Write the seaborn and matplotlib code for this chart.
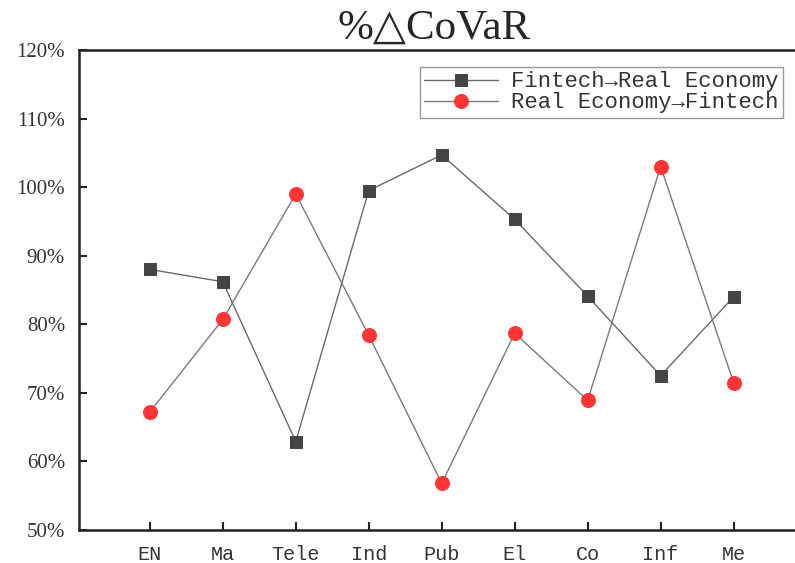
import matplotlib
matplotlib.use("Agg")
import matplotlib.pyplot as plt
from matplotlib.ticker import FuncFormatter, MultipleLocator
import pandas
import seaborn as sns

sectors = ["EN", "Ma", "Tele", "Ind", "Pub", "El", "Co", "Inf", "Me"]
fintech_to_real = [88.0, 86.2, 62.9, 99.5, 104.7, 95.3, 84.1, 72.5, 84.0]
real_to_fintech = [67.2, 80.7, 99.0, 78.4, 56.8, 78.7, 68.9, 103.0, 71.5]

label_a = "Fintech\u2192Real Economy"
label_b = "Real Economy\u2192Fintech"

serif = ["Liberation Serif", "DejaVu Serif"]
mono = ["Liberation Mono", "DejaVu Sans Mono"]


def main():
    sns.set_style("white")
    plt.rcParams["font.family"] = serif

    df = pandas.DataFrame(
        {
            "sector": sectors,
            "pos": range(len(sectors)),
            "a": fintech_to_real,
            "b": real_to_fintech,
        }
    )

    fig = plt.figure(figsize=(7.95, 5.63), dpi=100)
    ax = fig.add_axes([79 / 795, 1 - 530 / 563, 1 - 79 / 795 + 0.01, 480 / 563])

    sns.lineplot(
        data=df, x="pos", y="a", sort=False, ax=ax, color="#6a6a6a", linewidth=1.0,
        marker="s", markersize=9, markerfacecolor="#454545",
        markeredgecolor="#454545", label=label_a,
    )
    sns.lineplot(
        data=df, x="pos", y="b", sort=False, ax=ax, color="#7a7a7a", linewidth=1.0,
        marker="o", markersize=10, markerfacecolor="#ff3535",
        markeredgecolor="#ff3535", label=label_b,
    )

    ax.set_xlim(-0.97, 8.95)
    ax.set_ylim(50, 120)
    ax.set_xticks(df.pos)
    ax.set_xticklabels(sectors, family=mono, fontsize=14.5, color="#333333")
    ax.yaxis.set_major_locator(MultipleLocator(10))
    ax.yaxis.set_major_formatter(FuncFormatter(lambda v, _: f"{v:.0f}%"))
    for t in ax.get_yticklabels():
        t.set_fontsize(15)
        t.set_color("#333333")
    ax.tick_params(axis="both", direction="in", length=6, width=1.5, colors="#222222",
                   labelcolor="#333333", left=True, bottom=True)
    ax.tick_params(axis="x", pad=11)
    ax.tick_params(axis="y", pad=10)
    ax.set_xlabel("")
    ax.set_ylabel("")

    for side in ["left", "bottom", "top"]:
        ax.spines[side].set_color("#222222")
        ax.spines[side].set_linewidth(1.8)
    ax.spines["right"].set_visible(False)

    title = ax.set_title("%\u25b3CoVaR", fontsize=31, family=serif, pad=8)
    title.set_x(0.49)

    leg = ax.legend(
        loc="upper right", frameon=True, borderaxespad=0,
        fancybox=False, framealpha=1, edgecolor="#999999", borderpad=0.2,
        handlelength=3.3, handletextpad=0.6, labelspacing=0.0,
        prop={"family": mono, "size": 16},
    )
    leg.set_bbox_to_anchor((783 / 795, 1 - 67 / 563), transform=fig.transFigure)
    leg.get_frame().set_linewidth(1.0)
    for t in leg.get_texts():
        t.set_color("#333333")

    fig.savefig("out.png", dpi=100)


if __name__ == "__main__":
    main()
